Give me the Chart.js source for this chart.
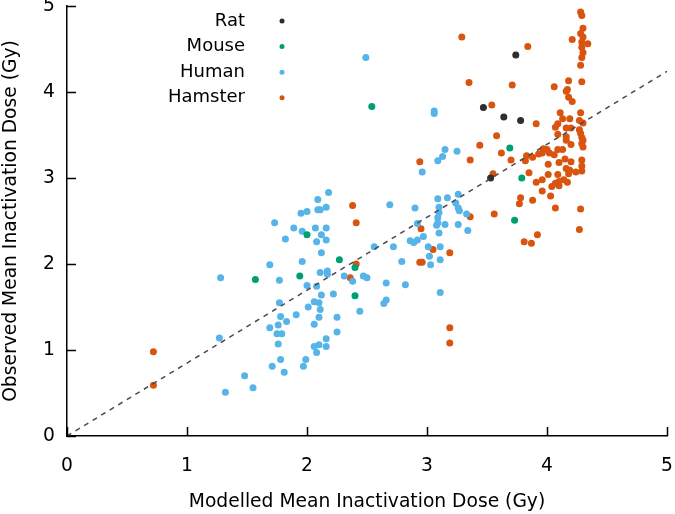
<!DOCTYPE html>
<html>
<head>
<meta charset="utf-8">
<script src="https://cdn.jsdelivr.net/npm/chart.js@4.4.1/dist/chart.umd.min.js"></script>
<style>
  html, body { margin: 0; padding: 0; background: #fff; }
  #chart { display: block; }
</style>
</head>
<body>
<canvas id="chart" width="675" height="514"></canvas>
<script>
// Data
const ratX = [3.74, 3.47, 3.64, 3.78, 3.53];
const ratY = [4.43, 3.82, 3.71, 3.67, 3.00];

const mouseX = [3.69, 3.79, 3.73, 2.00, 2.27, 2.40, 1.94, 1.57, 2.40, 2.54];
const mouseY = [3.35, 3.00, 2.51, 2.34, 2.05, 1.96, 1.86, 1.82, 1.63, 3.83];

const humanX = [2.18, 2.09, 1.95, 2.00, 2.09, 2.11, 2.16, 1.73, 1.89, 1.96,
    2.07, 2.16, 2.12, 2.08, 2.16, 1.82, 2.12, 1.96, 1.69, 2.69,
    2.56, 2.72, 2.79, 2.86, 1.28, 1.77, 2.11, 2.17, 2.17, 2.31,
    2.38, 2.47, 2.50, 2.66, 2.82, 2.00, 2.08, 2.12, 2.22, 1.77,
    2.06, 2.10, 2.01, 2.11, 2.66, 2.64, 2.44, 1.78, 1.91, 1.83,
    2.10, 2.25, 1.69, 1.76, 1.75, 1.79, 2.06, 2.25, 1.27, 1.76,
    2.16, 2.06, 2.10, 2.16, 2.08, 1.78, 1.99, 1.71, 1.97, 1.81,
    1.48, 1.55, 1.32, 3.15, 3.13, 3.09, 3.25, 2.96, 3.09, 3.17,
    3.26, 3.24, 3.26, 3.27, 3.10, 3.10, 3.09, 3.09, 3.08, 3.15,
    2.90, 2.92, 3.33, 3.26, 3.34, 3.10, 2.97, 2.89, 2.92, 3.01,
    3.11, 3.02, 3.11, 3.03, 3.06, 3.06, 2.49, 3.11];
const humanY = [2.83, 2.75, 2.59, 2.61, 2.63, 2.63, 2.66, 2.48, 2.42, 2.38,
    2.42, 2.42, 2.34, 2.26, 2.28, 2.29, 2.13, 2.03, 1.99, 2.69,
    2.20, 2.20, 2.03, 2.27, 1.84, 1.81, 1.90, 1.92, 1.88, 1.86,
    1.80, 1.86, 1.84, 1.78, 1.76, 1.75, 1.74, 1.64, 1.65, 1.55,
    1.56, 1.55, 1.50, 1.47, 1.58, 1.54, 1.45, 1.39, 1.41, 1.33,
    1.38, 1.38, 1.26, 1.29, 1.19, 1.19, 1.30, 1.21, 1.14, 1.07,
    1.13, 1.04, 1.06, 1.04, 0.97, 0.89, 0.89, 0.81, 0.81, 0.74,
    0.70, 0.56, 0.51, 3.33, 3.25, 3.20, 3.31, 3.07, 2.76, 2.77,
    2.81, 2.71, 2.65, 2.62, 2.66, 2.60, 2.54, 2.48, 2.45, 2.46,
    2.65, 2.47, 2.58, 2.46, 2.39, 2.36, 2.32, 2.25, 2.28, 2.20,
    2.20, 2.09, 2.05, 1.99, 3.78, 3.75, 4.40, 1.67];

const hamsterX = [0.72, 0.72, 2.38, 2.41, 2.41, 2.36, 3.19, 3.19, 3.29, 3.84,
    3.35, 3.71, 3.54, 3.91, 3.58, 3.44, 4.28, 4.29, 4.30, 4.28,
    4.30, 4.21, 4.29, 4.34, 4.29, 4.30, 4.29, 4.28, 4.29, 4.18,
    4.06, 4.17, 4.16, 4.18, 4.21, 4.11, 4.28, 4.13, 4.19, 4.27,
    4.30, 4.09, 4.07, 4.16, 4.20, 4.27, 4.09, 4.28, 4.16, 4.29,
    4.16, 4.30, 4.20, 4.29, 4.30, 4.09, 4.13, 3.97, 3.62, 3.36,
    3.70, 3.83, 3.88, 3.93, 3.96, 4.00, 4.02, 4.06, 4.15, 4.20,
    4.29, 4.01, 4.10, 4.29, 4.16, 4.19, 4.24, 4.29, 3.55, 3.85,
    4.01, 4.09, 4.18, 3.91, 3.96, 4.07, 4.10, 4.14, 4.17, 4.04,
    4.10, 3.96, 4.03, 3.78, 3.77, 3.88, 4.07, 4.28, 3.56, 3.36,
    2.94, 2.95, 3.05, 3.19, 2.94, 2.96, 3.92, 3.81, 3.87, 4.27,
    3.82];
const hamsterY = [0.98, 0.59, 2.68, 2.48, 2.00, 1.84, 1.26, 1.08, 4.64, 4.53,
    4.11, 4.08, 3.85, 3.63, 3.49, 3.38, 4.93, 4.89, 4.74, 4.68,
    4.64, 4.61, 4.58, 4.56, 4.52, 4.46, 4.40, 4.31, 4.12, 4.13,
    4.06, 4.03, 4.01, 3.94, 3.89, 3.76, 3.76, 3.69, 3.69, 3.67,
    3.64, 3.63, 3.59, 3.58, 3.58, 3.56, 3.51, 3.52, 3.48, 3.47,
    3.44, 3.44, 3.39, 3.40, 3.36, 3.33, 3.33, 3.34, 3.29, 3.21,
    3.21, 3.26, 3.24, 3.28, 3.29, 3.33, 3.29, 3.27, 3.22, 3.19,
    3.21, 3.16, 3.18, 3.14, 3.11, 3.09, 3.07, 3.08, 3.05, 3.06,
    3.04, 3.04, 3.05, 2.95, 2.98, 2.94, 2.96, 2.98, 2.95, 2.90,
    2.91, 2.85, 2.79, 2.77, 2.70, 2.74, 2.65, 2.64, 2.58, 2.55,
    3.19, 2.41, 2.17, 2.13, 2.02, 2.02, 2.34, 2.26, 2.24, 2.40,
    3.20];

// reference line y = k x
const fitX = [0, 5];
const fitY = [0, 4.24];

const xTicks = [0, 1, 2, 3, 4, 5];
const yTicks = [0, 1, 2, 3, 4, 5];

const FONT = "'DejaVu Sans', Verdana, sans-serif";

function pts(xs, ys) {
    return xs.map((x, i) => ({ x: x, y: ys[i] }));
}

// small inward tick marks on both axes
const innerTicks = {
    id: 'innerTicks',
    afterDraw(chart) {
        const { ctx, chartArea, scales: { x, y } } = chart;
        ctx.save();
        ctx.strokeStyle = '#000';
        ctx.lineWidth = 1.5;
        ctx.beginPath();
        xTicks.forEach(v => {
            const px = Math.round(x.getPixelForValue(v)) + 0.5;
            ctx.moveTo(px, chartArea.bottom);
            ctx.lineTo(px, chartArea.bottom - 9);
        });
        yTicks.forEach(v => {
            const py = Math.round(y.getPixelForValue(v)) + 0.5;
            ctx.moveTo(chartArea.left, py);
            ctx.lineTo(chartArea.left + 9, py);
        });
        ctx.stroke();
        ctx.restore();
    }
};

// legend: label right-aligned, dot on the right
const sideLegend = {
    id: 'sideLegend',
    afterDraw(chart) {
        const ctx = chart.ctx;
        ctx.save();
        ctx.font = '18px ' + FONT;
        ctx.textAlign = 'right';
        ctx.textBaseline = 'middle';
        let row = 0;
        chart.data.datasets.forEach(ds => {
            if (!ds.inLegend) return;
            const cy = 21 + row * 25.6;
            ctx.fillStyle = '#000';
            ctx.fillText(ds.label, 245, cy);
            ctx.fillStyle = ds.backgroundColor;
            ctx.beginPath();
            ctx.arc(282, cy, 2.5, 0, Math.PI * 2);
            ctx.fill();
            row++;
        });
        ctx.restore();
    }
};

function scatterSet(label, xs, ys, color) {
    return {
        label: label,
        inLegend: true,
        data: pts(xs, ys),
        backgroundColor: color,
        borderColor: color,
        borderWidth: 0,
        pointRadius: 3.5,
        pointHoverRadius: 3.5
    };
}

new Chart(document.getElementById('chart').getContext('2d'), {
    type: 'scatter',
    data: {
        datasets: [
            {
                type: 'line',
                label: 'fit',
                data: pts(fitX, fitY),
                borderColor: '#4a4a4a',
                borderWidth: 1.5,
                borderDash: [5, 5],
                pointRadius: 0,
                fill: false
            },
            scatterSet('Rat', ratX, ratY, '#2e2e2e'),
            scatterSet('Mouse', mouseX, mouseY, '#009e73'),
            scatterSet('Human', humanX, humanY, '#56b4e9'),
            scatterSet('Hamster', hamsterX, hamsterY, '#d9540e')
        ]
    },
    options: {
        responsive: false,
        animation: false,
        devicePixelRatio: 1,
        layout: { padding: { top: 6, right: 8, left: 0, bottom: 0 } },
        plugins: {
            legend: { display: false },
            tooltip: { enabled: false }
        },
        scales: {
            x: {
                type: 'linear',
                min: 0,
                max: 5,
                afterBuildTicks: s => { s.ticks = xTicks.map(v => ({ value: v })); },
                afterFit: s => { s.height = 78; s.paddingLeft = 0; s.paddingRight = 0; },
                grid: { display: false, drawTicks: false },
                border: { display: true, color: '#000', width: 1.5 },
                ticks: { padding: 19, color: '#000', font: { family: FONT, size: 18.7 } },
                title: {
                    display: true,
                    text: 'Modelled Mean Inactivation Dose (Gy)',
                    color: '#000',
                    font: { family: FONT, size: 18.7 },
                    padding: { top: 0, bottom: 1 }
                }
            },
            y: {
                type: 'linear',
                min: 0,
                max: 5,
                afterBuildTicks: s => { s.ticks = yTicks.map(v => ({ value: v })); },
                afterFit: s => { s.width = 67; s.paddingTop = 0; s.paddingBottom = 0; },
                grid: { display: false, drawTicks: false },
                border: { display: true, color: '#000', width: 1.5 },
                ticks: { padding: 12, color: '#000', font: { family: FONT, size: 18.7 } },
                title: {
                    display: true,
                    text: 'Observed Mean Inactivation Dose (Gy)',
                    color: '#000',
                    font: { family: FONT, size: 18.7 },
                    padding: { top: 0, bottom: 0 }
                }
            }
        }
    },
    plugins: [innerTicks, sideLegend]
});
</script>
</body>
</html>
